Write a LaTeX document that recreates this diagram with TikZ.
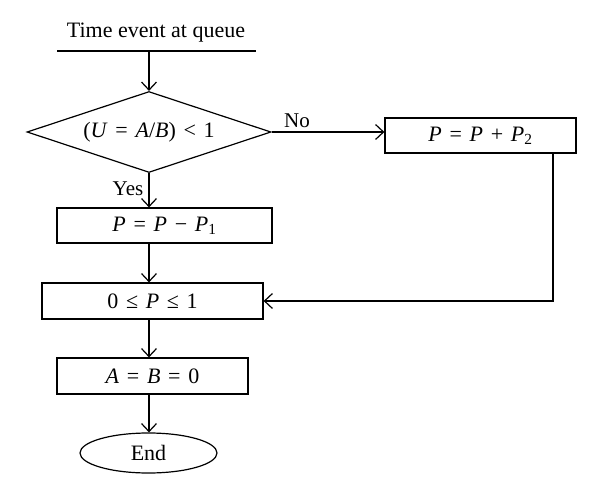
\documentclass[tikz,border=0pt]{standalone}
\usepackage{fontspec}
\setmainfont{Liberation Serif}
\usetikzlibrary{shapes.geometric,arrows.meta}
\newcommand{\eqs}{\hspace{0.35em}}
\begin{document}
\begin{tikzpicture}[x=1pt,y=-1pt,line width=1.2pt,
  every node/.style={font=\fontsize{22}{26}\selectfont, inner sep=0pt},
  boxst/.style={draw, rectangle},
  arr/.style={-{Straight Barb[length=8pt,width=15pt,line width=1.2pt]}},
  lbl/.style={font=\fontsize{21}{25}\selectfont}]
\useasboundingbox (0,0) rectangle (600,500);
\node (title) at (156,33) {Time event at queue};
\coordinate (tl) at (57,51);
\coordinate (tr) at (256,51);
\coordinate (ts) at (149,51);
\draw (tl) -- (tr);
\node[draw, diamond, minimum width=244pt, minimum height=81pt, aspect=3] (dia) at (149,132) {(\textit{U}\eqs=\eqs\textit{A}/\textit{B})\eqs<\eqs1};
\node[boxst, minimum width=191pt, minimum height=35pt] (plus) at (480.5,135.5) {\textit{P}\eqs=\eqs\textit{P}\eqs+\eqs\textit{P}\textsubscript{2}};
\node[boxst, minimum width=215pt, minimum height=35pt] (minus) at (164.5,225.5) {\textit{P}\eqs=\eqs\textit{P}\eqs−\eqs\textit{P}\textsubscript{1}};
\node[boxst, minimum width=221pt, minimum height=36pt] (range) at (152.5,301) {0\eqs≤\eqs\textit{P}\eqs≤\eqs1};
\node[boxst, minimum width=191pt, minimum height=36pt] (ab) at (152.5,376) {\textit{A}\eqs=\eqs\textit{B}\eqs=\eqs0};
\node[draw, ellipse, minimum width=137pt, minimum height=40pt] (end) at (148.5,453) {End};
\node[lbl] (no) at (297,121) {No};
\node[lbl] (yes) at (128,189) {Yes};
\draw[arr] (ts) -- (dia.north);
\draw[arr] (dia.east) -- (dia.east -| plus.west);
\draw[arr] (dia.south) -- (dia.south |- minus.north);
\draw[arr] (dia.south |- minus.south) -- (dia.south |- range.north);
\draw[arr] ([xshift=72.5pt]plus.south) |- (range.east);
\draw[arr] (dia.south |- range.south) -- (dia.south |- ab.north);
\draw[arr] (dia.south |- ab.south) -- (dia.south |- end.north);
\end{tikzpicture}
\end{document}
